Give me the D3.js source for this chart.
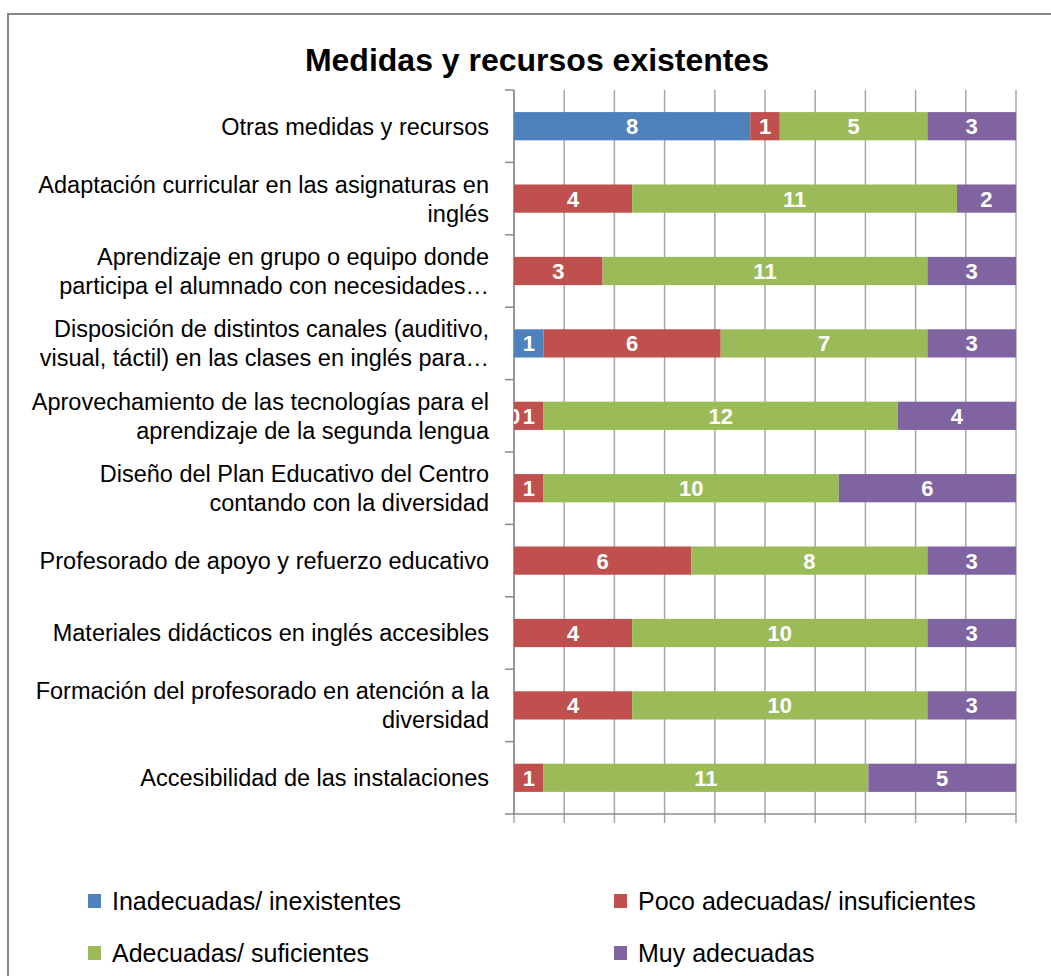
<!DOCTYPE html>
<html>
<head>
<meta charset="utf-8">
<script src="https://cdn.jsdelivr.net/npm/d3@7"></script>
<style>
  body { margin: 0; background: #fff; }
  svg { display: block; }
</style>
</head>
<body>
<div id="chart"></div>
<script>
// Categories, top to bottom, already split in lines as in the picture
const categories = [
  ["Otras medidas y recursos"],
  ["Adaptación curricular en las asignaturas en", "inglés"],
  ["Aprendizaje en grupo o equipo donde", "participa el alumnado con necesidades…"],
  ["Disposición de distintos canales (auditivo,", "visual, táctil) en las clases en inglés para…"],
  ["Aprovechamiento de las tecnologías para el", "aprendizaje de la segunda lengua"],
  ["Diseño del Plan Educativo del Centro", "contando con la diversidad"],
  ["Profesorado de apoyo y refuerzo educativo"],
  ["Materiales didácticos en inglés accesibles"],
  ["Formación del profesorado en atención a la", "diversidad"],
  ["Accesibilidad de las instalaciones"]
];

const seriesNames = ["Inadecuadas/ inexistentes", "Poco adecuadas/ insuficientes", "Adecuadas/ suficientes", "Muy adecuadas"];
const seriesColors = ["#4F81BD", "#C0504D", "#9BBB59", "#8064A2"];

// null = empty cell (no label), 0 = real zero (label shown)
const inadecuadas = [8, null, null, 1, 0, null, null, null, null, null];
const pocoAdecuadas = [1, 4, 3, 6, 1, 1, 6, 4, 4, 1];
const adecuadas = [5, 11, 11, 7, 12, 10, 8, 10, 10, 11];
const muyAdecuadas = [3, 2, 3, 3, 4, 6, 3, 3, 3, 5];

const seriesValues = [inadecuadas, pocoAdecuadas, adecuadas, muyAdecuadas];

const W = 1051, H = 976;
const plot = { left: 514, right: 1016, top: 90, bottom: 814 };
const font = "Liberation Sans, Arial, sans-serif";

const svg = d3.select("#chart").append("svg")
  .attr("width", W)
  .attr("height", H);

// chart frame
svg.append("rect")
  .attr("x", 8).attr("y", 14)
  .attr("width", 1100).attr("height", 1000)
  .attr("fill", "#fff")
  .attr("stroke", "#868686")
  .attr("stroke-width", 2);

svg.append("text")
  .attr("x", 537).attr("y", 71)
  .attr("text-anchor", "middle")
  .style("font-family", font)
  .style("font-size", "32px")
  .style("font-weight", "bold")
  .text("Medidas y recursos existentes");

const keys = categories.map((c, i) => "c" + i);
const rows = keys.map((k, i) => {
  const r = { key: k, idx: i };
  seriesNames.forEach((s, j) => { r[s] = seriesValues[j][i] == null ? 0 : seriesValues[j][i]; });
  return r;
});

const stack = d3.stack().keys(seriesNames).offset(d3.stackOffsetExpand);
const stacked = stack(rows);

const x = d3.scaleLinear().domain([0, 1]).range([plot.left, plot.right]);
const y = d3.scaleBand().domain(keys).range([plot.top, plot.bottom]).padding(0);
const barH = y.bandwidth() * 0.39;

// vertical gridlines
svg.append("g").selectAll("line")
  .data(x.ticks(10))
  .enter().append("line")
  .attr("x1", d => x(d)).attr("x2", d => x(d))
  .attr("y1", plot.top).attr("y2", plot.bottom + 9)
  .attr("stroke", "#A6A6A6")
  .attr("stroke-width", 1.5);

// left axis + category ticks
const axisColor = "#8C8C8C";
svg.append("line")
  .attr("x1", plot.left).attr("x2", plot.left)
  .attr("y1", plot.top).attr("y2", plot.bottom)
  .attr("stroke", axisColor).attr("stroke-width", 1.5);
svg.append("line")
  .attr("x1", plot.left - 9).attr("x2", plot.right)
  .attr("y1", plot.bottom).attr("y2", plot.bottom)
  .attr("stroke", axisColor).attr("stroke-width", 1.5);
svg.append("g").selectAll("line")
  .data(keys)
  .enter().append("line")
  .attr("x1", plot.left - 9).attr("x2", plot.left)
  .attr("y1", d => y(d)).attr("y2", d => y(d))
  .attr("stroke", axisColor).attr("stroke-width", 1.5);

// bars
const layers = svg.append("g").selectAll("g")
  .data(stacked)
  .enter().append("g")
  .attr("fill", (d, i) => seriesColors[i]);

layers.selectAll("rect")
  .data(d => d)
  .enter().append("rect")
  .attr("x", d => x(d[0]))
  .attr("width", d => x(d[1]) - x(d[0]))
  .attr("y", d => y(d.data.key) + (y.bandwidth() - barH) / 2)
  .attr("height", barH);

// data labels
svg.append("clipPath").attr("id", "plotclip")
  .append("rect")
  .attr("x", plot.left).attr("y", plot.top)
  .attr("width", plot.right - plot.left).attr("height", plot.bottom - plot.top);

const labelData = [];
stacked.forEach((layer, j) => {
  layer.forEach((d, i) => {
    const v = seriesValues[j][i];
    if (v != null) labelData.push({ v: v, cx: (x(d[0]) + x(d[1])) / 2, cy: y(d.data.key) + y.bandwidth() / 2 });
  });
});

svg.append("g").attr("clip-path", "url(#plotclip)")
  .selectAll("text")
  .data(labelData)
  .enter().append("text")
  .attr("x", d => d.cx)
  .attr("y", d => d.cy)
  .attr("dy", "0.36em")
  .attr("text-anchor", "middle")
  .attr("fill", "#fff")
  .style("font-family", font)
  .style("font-size", "22px")
  .style("font-weight", "bold")
  .text(d => d.v);

// category labels
const lineGap = 29;
const catLabels = svg.append("g").selectAll("text")
  .data(categories)
  .enter().append("text")
  .attr("text-anchor", "end")
  .style("font-family", font)
  .style("font-size", "23.5px")
  .attr("fill", "#000");

catLabels.each(function (lines, i) {
  const cy = y(keys[i]) + y.bandwidth() / 2;
  const t = d3.select(this);
  lines.forEach((ln, k) => {
    t.append("tspan")
      .attr("x", 489)
      .attr("y", cy + (k - (lines.length - 1) / 2) * lineGap)
      .attr("dy", "0.36em")
      .text(ln);
  });
});

// legend
const legendPos = [[88, 901], [614, 901], [88, 953], [614, 953]];
const legend = svg.append("g").selectAll("g")
  .data(seriesNames)
  .enter().append("g")
  .attr("transform", (d, i) => "translate(" + legendPos[i][0] + "," + legendPos[i][1] + ")");

legend.append("rect")
  .attr("x", 0).attr("y", -7)
  .attr("width", 13).attr("height", 14)
  .attr("fill", (d, i) => seriesColors[i]);

legend.append("text")
  .attr("x", 24)
  .attr("dy", "0.36em")
  .style("font-family", font)
  .style("font-size", "25px")
  .text(d => d);
</script>
</body>
</html>
